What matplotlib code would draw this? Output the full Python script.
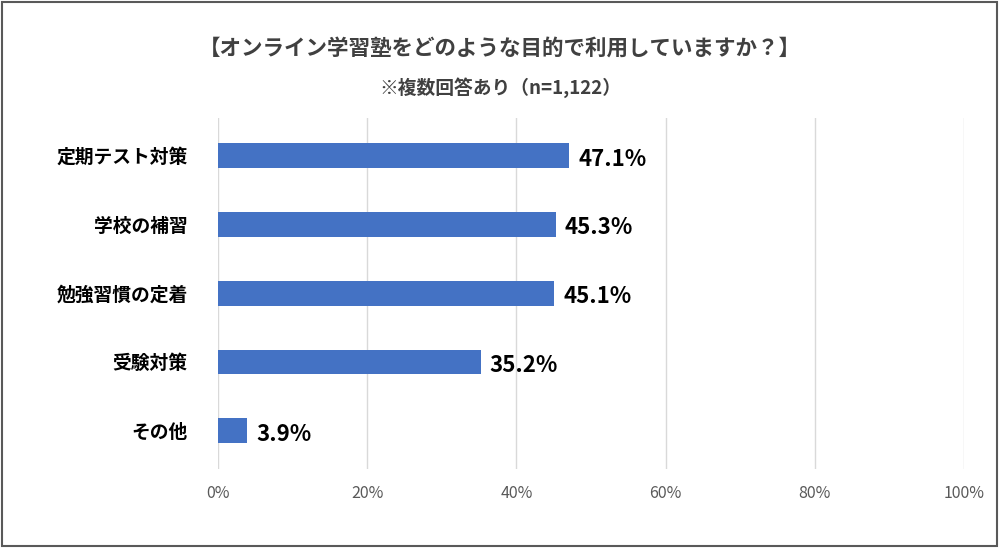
import matplotlib.pyplot as plt
import matplotlib.patches as mpatches

plt.rcParams['font.family'] = 'Noto Sans CJK JP'

categories = ['定期テスト対策', '学校の補習', '勉強習慣の定着', '受験対策', 'その他']
values = [47.1, 45.3, 45.1, 35.2, 3.9]
xticks = [0, 20, 40, 60, 80, 100]

fig = plt.figure(figsize=(10, 5.48), dpi=100)
fig.patch.set_facecolor('white')
fig.add_artist(mpatches.Rectangle((0.002, 0.003), 0.995, 0.994, transform=fig.transFigure,
                                  fill=False, edgecolor='#595959', linewidth=1.5))

ax = fig.add_axes([0.218, 0.145, 0.746, 0.64])
y = list(range(len(categories)))[::-1]
ax.barh(y, values, height=0.36, color='#4472C4')
for yi, v in zip(y, values):
    ax.text(v + 1.2, yi - 0.05, f'{v}%', va='center', ha='left', fontsize=16, fontweight='bold')
ax.set_yticks(y)
ax.set_yticklabels(categories, fontsize=13.5, fontweight='bold')
ax.set_xlim(0, 100)
ax.set_ylim(-0.55, 4.55)
ax.set_xticks(xticks)
ax.set_xticklabels([f'{t}%' for t in xticks], fontsize=11.5, color='#595959')
ax.grid(axis='x', color='#d9d9d9', linewidth=1)
ax.set_axisbelow(True)
for s in ax.spines.values():
    s.set_visible(False)
ax.tick_params(length=0, pad=22)
ax.tick_params(axis='x', pad=12)

fig.text(0.5, 0.9, '【オンライン学習塾をどのような目的で利用していますか？】', ha='center',
         fontsize=15.5, fontweight='bold', color='#404040')
fig.text(0.5, 0.828, '※複数回答あり（n=1,122）', ha='center', fontsize=13.5,
         fontweight='bold', color='#404040')

fig.savefig('out.png', dpi=100, facecolor='white')
